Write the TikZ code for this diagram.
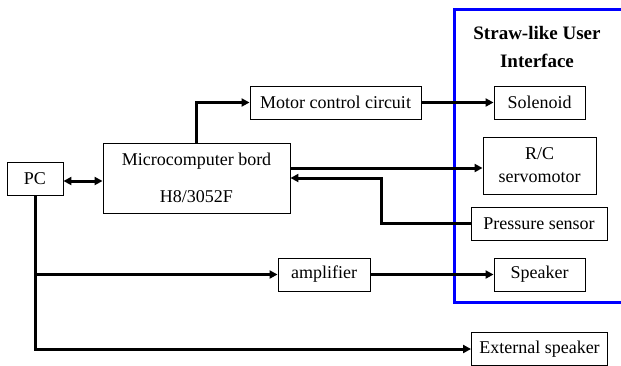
\documentclass[tikz,border=0pt]{standalone}
\usepackage{fontspec}
\setmainfont{Liberation Serif}
\usepackage{tikz}
\usetikzlibrary{arrows.meta,positioning,calc}
\definecolor{uiblue}{HTML}{0000FF}

\begin{document}
\begin{tikzpicture}[
    x=1pt, y=-1pt,
    blk/.style={draw, line width=0.9pt, inner sep=0pt, minimum height=33pt, align=center, font=\fontsize{18}{22}\selectfont},
    arr/.style={-{Triangle[length=8pt,width=8pt]}, line width=3pt},
    darr/.style={{Triangle[length=8pt,width=8pt]}-{Triangle[length=8pt,width=8pt]}, line width=3pt}
  ]
    \useasboundingbox (0,0) rectangle (621,365);
    % user interface frame
    \coordinate (uitop) at (640,9);
    \coordinate (uibot) at (640,302);
    \draw[uiblue, line width=3pt] (uitop) -- (454,9) -- (454,302) -- (uibot);
    \node[font=\fontsize{19}{28}\selectfont\bfseries, align=center] (title) at (537,47) {Straw-like User\\Interface};

    \node[blk, minimum width=56pt] (pc) at (35,178.5) {PC};
    \node[blk, minimum width=187pt, minimum height=70pt, font=\fontsize{18}{37}\selectfont] (mcu) at (196.5,178) {Microcomputer bord\\H8/3052F};
    \node[blk, minimum width=171pt] (motor) at (335.5,102.5) {Motor control circuit};
    \node[blk, minimum width=91pt] (sol) at (539.5,102.5) {Solenoid};
    \node[blk, minimum width=113pt, minimum height=57pt, font=\fontsize{18}{23}\selectfont] (servo) at (539.5,165.5) {R/C\\servomotor};
    \node[blk, minimum width=136pt] (press) at (539,223.5) {Pressure sensor};
    \node[blk, minimum width=92pt] (amp) at (324,274.5) {amplifier};
    \node[blk, minimum width=91pt] (spk) at (539.5,274.5) {Speaker};
    \node[blk, minimum width=136pt] (ext) at (539.5,349) {External speaker};

    \draw[darr] (pc.east |- 0,181) -- (mcu.west |- 0,181);
    \draw[arr] (mcu.north) |- (motor.west);
    \draw[arr] (motor) -- (sol);
    \draw[arr] (mcu.east |- 0,168) -- (servo.west |- 0,168);
    \draw[arr] (press.west) -| (381,178) -- (mcu.east |- 0,178);
    \draw[arr] (amp) -- (spk);
    \draw[arr] (pc.south) |- (amp.west);
    \draw[arr] (pc.south) |- (ext.west);
  \end{tikzpicture}
\end{document}
